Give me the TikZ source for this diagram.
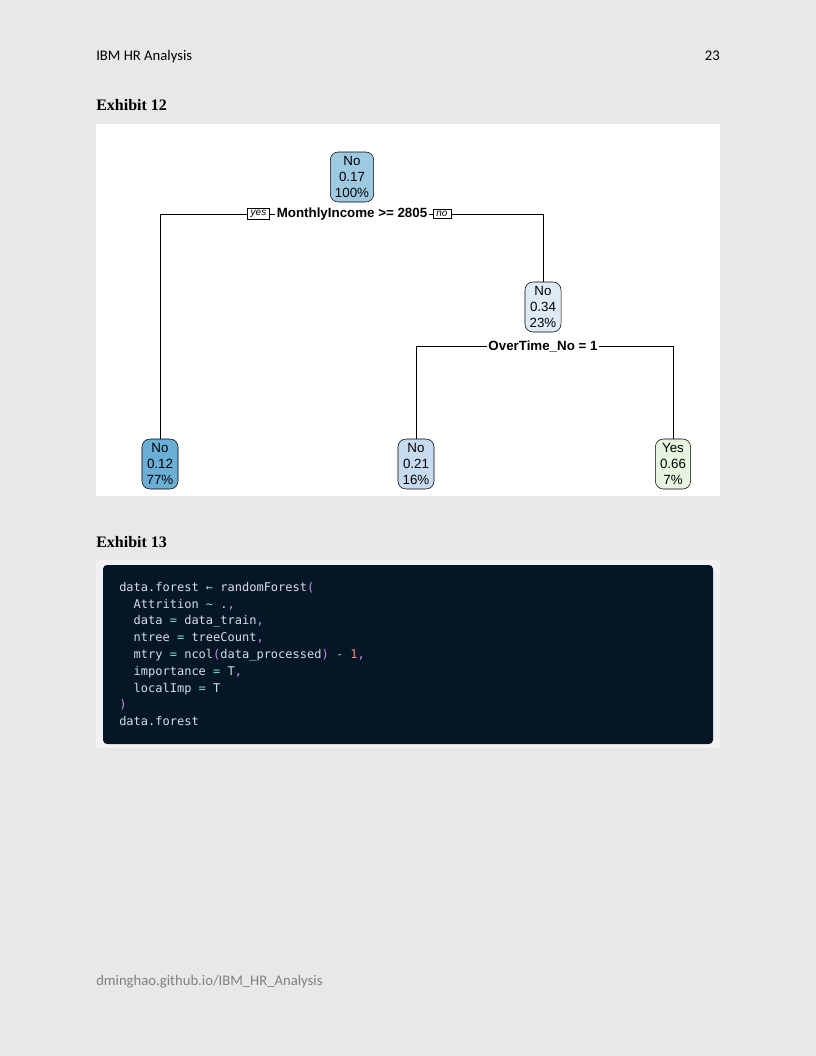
\documentclass[tikz,border=0pt]{standalone}
\usepackage{fontspec}
\setmainfont{Liberation Serif}
\setsansfont{Liberation Sans}
\setmonofont{DejaVu Sans Mono}
\newfontfamily\bodyfont{Carlito}
\usepackage{xcolor}
\definecolor{pagebg}{RGB}{232,232,232}
\definecolor{codeouter}{RGB}{241,241,241}
\definecolor{codebg}{RGB}{5,22,38}
\definecolor{codefg}{RGB}{214,222,235}
\definecolor{codeop}{RGB}{127,219,202}
\definecolor{codepu}{RGB}{199,146,234}
\definecolor{codenum}{RGB}{247,140,108}
\definecolor{blueA}{RGB}{158,202,225}
\definecolor{blueB}{RGB}{107,174,214}
\definecolor{blueC}{RGB}{222,235,247}
\definecolor{blueD}{RGB}{198,219,239}
\definecolor{greenA}{RGB}{229,245,224}
\definecolor{footgray}{RGB}{128,128,128}
\usetikzlibrary{positioning}

\newcommand{\op}[1]{\textcolor{codeop}{#1}}
\newcommand{\pu}[1]{\textcolor{codepu}{#1}}
\newcommand{\nm}[1]{\textcolor{codenum}{#1}}

\begin{document}
\begin{tikzpicture}[
  x=0.75pt, y=-0.75pt,
  tnode/.style={rectangle,draw,rounded corners=6pt,align=center,inner xsep=3.5pt,inner ysep=1pt,
    minimum height=37.5pt,font=\sffamily\fontsize{10}{11.8}\selectfont},
  split/.style={fill=white,inner sep=1pt,font=\sffamily\bfseries\fontsize{10}{11}\selectfont},
  yn/.style={draw,fill=white,inner xsep=2.5pt,inner ysep=1.5pt,line width=0.4pt,font=\sffamily\itshape\fontsize{7.5}{8}\selectfont},
  edge/.style={draw,line width=0.5pt},
  hdr/.style={anchor=base west,inner sep=0pt,font=\bodyfont\fontsize{11}{13}\selectfont},
  exh/.style={anchor=base west,inner sep=0pt,font=\rmfamily\bfseries\fontsize{12}{14}\selectfont},
  code/.style={anchor=north west,inner sep=0pt,text=codefg,font=\ttfamily\fontsize{9}{12.6}\selectfont,align=left}
]
  % page
  \fill[pagebg] (0,0) rectangle (816,1056);
  \useasboundingbox (0,0) rectangle (816,1056);

  \node[hdr] (title) at (96,61) {IBM HR Analysis};
  \node[hdr,anchor=base east] (pnum) at (720,61) {23};
  \node[exh] (ex12) at (96,110) {Exhibit 12};

  % tree panel
  \fill[white] (96,124) rectangle (720,496);

  \node[tnode,fill=blueA] (root) at (352,177) {No\\0.17\\100\%};
  \node[tnode,fill=blueC] (n2) at (543,307) {No\\0.34\\23\%};
  \node[tnode,fill=blueB] (l1) at (160,464) {No\\0.12\\77\%};
  \node[tnode,fill=blueD] (l2) at (416,464) {No\\0.21\\16\%};
  \node[tnode,fill=greenA] (l3) at (673,464) {Yes\\0.66\\7\%};

  \node[split] (s1) at (352,214) {MonthlyIncome >= 2805};
  \node[yn,left=4pt of s1] (yes) {yes};
  \node[yn,right=3pt of s1] (no) {no};
  \node[split] (s2) at (543,346) {OverTime\_No = 1};

  \draw[edge] (l1.north) |- (yes.west);
  \draw[edge] (yes) -- (s1);
  \draw[edge] (s1) -- (no);
  \draw[edge] (no.east) -| (n2.north);
  \draw[edge] (l2.north) |- (s2.west);
  \draw[edge] (s2.east) -| (l3.north);

  % code panel
  \node[exh] (ex13) at (96,547) {Exhibit 13};
  \fill[codeouter] (96,560) rectangle (720,748);
  \fill[codebg,rounded corners=3pt] (103,565) rectangle (713,744);
  \node[code] (src) at (119,582) {%
data.forest \op{←} randomForest\pu{(}\\
\ \ Attrition \op{\textasciitilde} .\pu{,}\\
\ \ data \op{=} data\_train\pu{,}\\
\ \ ntree \op{=} treeCount\pu{,}\\
\ \ mtry \op{=} ncol\pu{(}data\_processed\pu{)} \op{-} \nm{1}\pu{,}\\
\ \ importance \op{=} T\pu{,}\\
\ \ localImp \op{=} T\\
\pu{)}\\
data.forest};

  \node[hdr,text=footgray] (foot) at (96,985) {dminghao.github.io/IBM\_HR\_Analysis};
\end{tikzpicture}
\end{document}
